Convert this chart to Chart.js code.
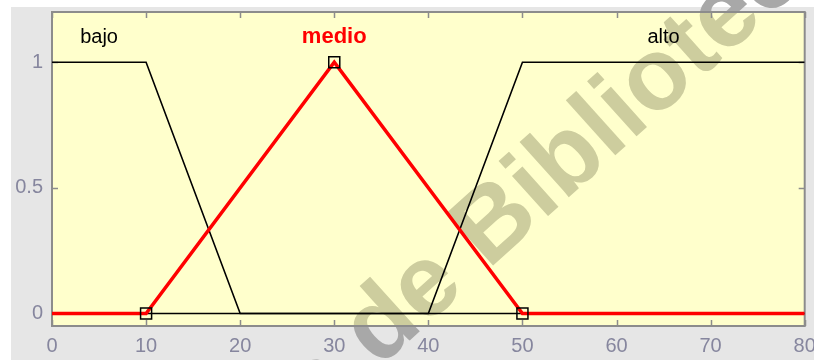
<!DOCTYPE html>
<html>
<head>
<meta charset="utf-8">
<style>
  html, body { margin: 0; padding: 0; background: #ffffff; }
  #wrap { width: 814px; height: 360px; }
</style>
<script src="https://cdn.jsdelivr.net/npm/chart.js@4/dist/chart.umd.min.js"></script>
</head>
<body>
<div id="wrap"><canvas id="mf" width="814" height="360"></canvas></div>
<script>
// Membership functions of the input variable (vertex coordinates)
const bajoX  = [0, 10, 20, 80];
const bajoY  = [1, 1, 0, 0];
const medioX = [0, 10, 30, 50, 80];
const medioY = [0, 0, 1, 0, 0];
const altoX  = [0, 40, 50, 80];
const altoY  = [0, 0, 1, 1];
// Parameter points of the selected function (medio)
const medioParamX = [10, 30, 50];
const medioParamY = [0, 1, 0];
// Names of the fuzzy sets
const setNames = ['bajo', 'medio', 'alto'];
// Axis ticks
const xTicks = [0, 10, 20, 30, 40, 50, 60, 70, 80];
const yTicks = [0, 0.5, 1];
const yTickLabels = ['0', '0.5', '1'];
// Watermark text
const watermark = 'Repositorio de Bibliotecas';

const toPoints = (xs, ys) => xs.map((x, i) => ({ x: x, y: ys[i] }));

const FONT = "'Liberation Sans', Arial, sans-serif";
const TICK_COLOR = '#86869e';

// Background panel, plot face and watermark
const backdrop = {
  id: 'backdrop',
  beforeDraw(chart) {
    const { ctx, chartArea: a } = chart;
    ctx.save();
    ctx.fillStyle = '#ffffff';
    ctx.fillRect(0, 0, chart.width, chart.height);
    ctx.fillStyle = '#e6e6e6';
    ctx.fillRect(11, 7, chart.width - 11, chart.height - 7);
    ctx.fillStyle = '#ffffcc';
    ctx.fillRect(a.left, a.top, a.right - a.left, a.bottom - a.top);

    // diagonal watermark: olive on the plot face, grey on the panel
    ctx.font = "bold 102px " + FONT;
    const lead = ctx.measureText('Repositorio de ').width;
    const drawMark = (color) => {
      ctx.save();
      ctx.translate(488, 270);
      ctx.rotate(-42 * Math.PI / 180);
      ctx.fillStyle = color;
      ctx.textBaseline = 'alphabetic';
      ctx.fillText(watermark, -lead, 0);
      ctx.restore();
    };
    ctx.save();
    ctx.beginPath();
    ctx.rect(a.left, a.top, a.right - a.left, a.bottom - a.top);
    ctx.clip();
    drawMark('#cdcd9e');
    ctx.restore();
    ctx.save();
    ctx.beginPath();
    ctx.rect(0, 0, chart.width, chart.height);
    ctx.rect(a.left, a.top, a.right - a.left, a.bottom - a.top);
    ctx.clip('evenodd');
    drawMark('#a8a8a8');
    ctx.restore();
    ctx.restore();
  },
  beforeDatasetsDraw(chart) {
    const { ctx, chartArea: a, scales } = chart;
    ctx.save();
    // inward tick marks on all four sides
    ctx.strokeStyle = '#8c8c8c';
    ctx.lineWidth = 1.5;
    const tl = 6;
    ctx.beginPath();
    xTicks.forEach(v => {
      const px = Math.round(scales.x.getPixelForValue(v)) + 0.5;
      ctx.moveTo(px, a.bottom); ctx.lineTo(px, a.bottom - tl);
      ctx.moveTo(px, a.top);    ctx.lineTo(px, a.top + tl);
    });
    yTicks.forEach(v => {
      const py = Math.round(scales.y.getPixelForValue(v)) + 0.5;
      ctx.moveTo(a.left, py);  ctx.lineTo(a.left + tl, py);
      ctx.moveTo(a.right, py); ctx.lineTo(a.right - tl, py);
    });
    ctx.stroke();
    // axes box
    ctx.lineWidth = 2;
    ctx.strokeRect(a.left, a.top, a.right - a.left, a.bottom - a.top);
    ctx.restore();
  },
  afterDatasetsDraw(chart) {
    const { ctx, scales } = chart;
    // set names centred over the plateau / peak of each function
    const sets = [[bajoX, bajoY], [medioX, medioY], [altoX, altoY]];
    ctx.save();
    ctx.textAlign = 'center';
    ctx.textBaseline = 'alphabetic';
    sets.forEach(([xs, ys], i) => {
      const top = xs.filter((x, k) => ys[k] === 1);
      const cx = (Math.min(...top) + Math.max(...top)) / 2;
      const px = scales.x.getPixelForValue(cx);
      const py = scales.y.getPixelForValue(1.075);
      if (setNames[i] === 'medio') {
        ctx.fillStyle = '#ff0000';
        ctx.font = "bold 22px " + FONT;
      } else {
        ctx.fillStyle = '#000000';
        ctx.font = "20px " + FONT;
      }
      ctx.fillText(setNames[i], px, py);
    });
    ctx.restore();
  }
};

new Chart(document.getElementById('mf'), {
  type: 'line',
  data: {
    datasets: [
      {
        label: 'medio vertices',
        data: toPoints(medioParamX, medioParamY),
        showLine: false,
        pointStyle: 'rect',
        pointRadius: 7.8,
        pointBorderWidth: 1.5,
        pointBorderColor: '#000000',
        pointBackgroundColor: 'rgba(0,0,0,0)',
        order: 0
      },
      {
        label: setNames[1],
        data: toPoints(medioX, medioY),
        borderColor: '#ff0000',
        borderWidth: 3.5,
        pointRadius: 0,
        tension: 0,
        order: 1
      },
      {
        label: setNames[0],
        data: toPoints(bajoX, bajoY),
        borderColor: '#000000',
        borderWidth: 1.6,
        pointRadius: 0,
        tension: 0,
        order: 2
      },
      {
        label: setNames[2],
        data: toPoints(altoX, altoY),
        borderColor: '#000000',
        borderWidth: 1.6,
        pointRadius: 0,
        tension: 0,
        order: 2
      }
    ]
  },
  options: {
    responsive: false,
    animation: false,
    devicePixelRatio: 1,
    layout: { padding: { top: 12, right: 6, left: 0, bottom: 0 } },
    plugins: { legend: { display: false }, tooltip: { enabled: false } },
    scales: {
      x: {
        type: 'linear',
        min: 0,
        max: 80,
        grid: { display: false, drawTicks: false },
        border: { display: false },
        afterBuildTicks: s => { s.ticks = xTicks.map(v => ({ value: v })); },
        afterFit: s => { s.height = 34; s.paddingLeft = 0; s.paddingRight = 0; },
        ticks: {
          color: TICK_COLOR,
          font: { family: FONT, size: 20 },
          padding: 8,
          maxRotation: 0,
          autoSkip: false
        }
      },
      y: {
        type: 'linear',
        min: -0.05,
        max: 1.2,
        grid: { display: false, drawTicks: false },
        border: { display: false },
        afterBuildTicks: s => { s.ticks = yTicks.map(v => ({ value: v })); },
        afterFit: s => { s.width = 52; s.paddingTop = 0; s.paddingBottom = 0; },
        ticks: {
          color: TICK_COLOR,
          font: { family: FONT, size: 20 },
          padding: 9,
          autoSkip: false,
          callback: v => yTickLabels[yTicks.indexOf(v)]
        }
      }
    }
  },
  plugins: [backdrop]
});
</script>
</body>
</html>
